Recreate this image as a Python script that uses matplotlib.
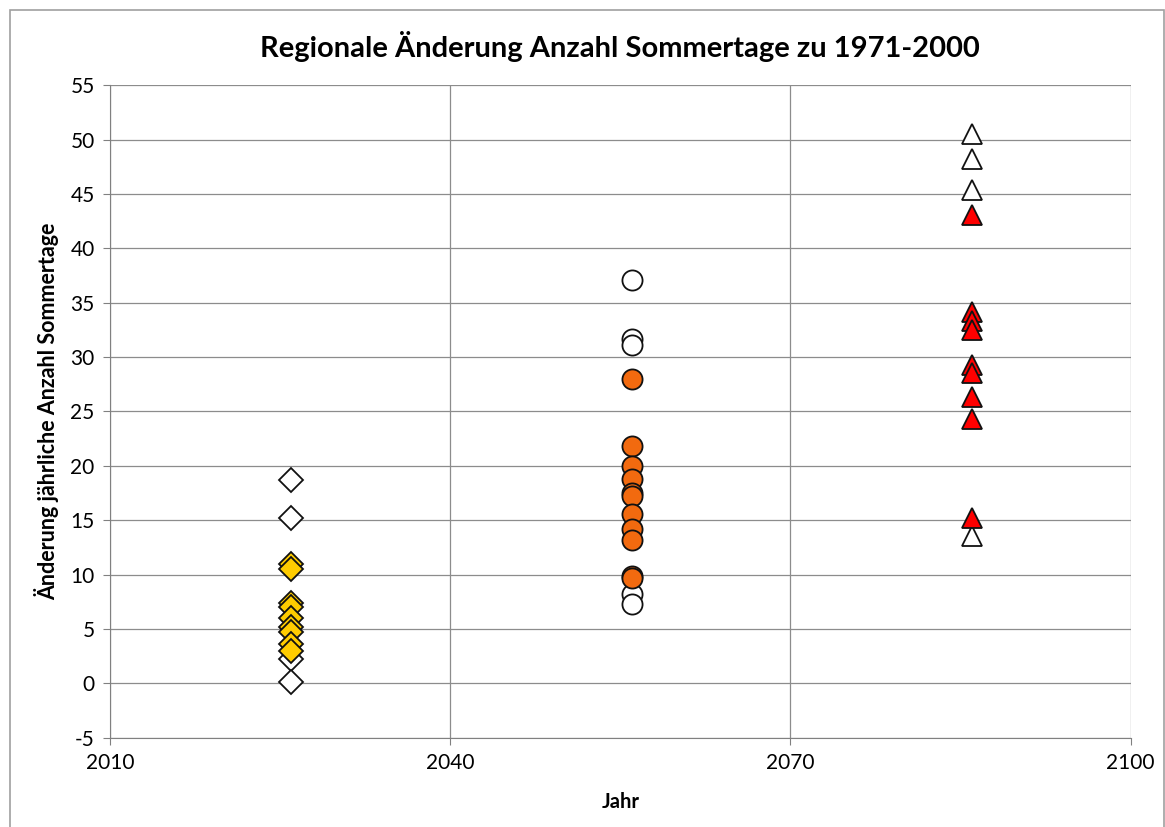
import matplotlib.pyplot as plt
from matplotlib.patches import Rectangle

plt.rcParams['font.family'] = ['Lato', 'DejaVu Sans']
plt.rcParams['axes.unicode_minus'] = False

# Zeitraum-Mittelpunkte
jahr_nah = 2026
jahr_mitte = 2056
jahr_fern = 2086

# nahe Zukunft (Rauten)
nah_weiss = [18.7, 15.2, 2.2, 0.1]
nah_gelb = [11.0, 10.5, 7.4, 7.0, 6.0, 5.2, 4.7, 3.6, 3.0]

# mittlere Zukunft (Kreise)
mitte_weiss = [37.1, 31.7, 31.1, 8.2, 7.3]
mitte_orange = [28.0, 21.8, 20.0, 18.8, 17.5, 17.2, 15.6, 14.2, 13.2, 9.9, 9.7]

# ferne Zukunft (Dreiecke)
fern_weiss = [50.5, 48.2, 45.4, 13.5]
fern_rot = [43.1, 34.1, 33.3, 32.5, 29.3, 28.5, 26.3, 24.3, 15.2]

fig = plt.figure(figsize=(11.65, 8.27), dpi=100)
ax = fig.add_axes([0.0944, 0.108, 0.876, 0.789])

# outer chart border like Excel
fig.patches.append(Rectangle((0.009, -0.01), 0.99, 0.998, transform=fig.transFigure,
                             fill=False, edgecolor='#a0a0a0', linewidth=1.2))

def punkte(x, werte, marker, farbe, ms):
    for v in sorted(werte, reverse=True):
        ax.plot([x], [v], marker=marker, markersize=ms, markerfacecolor=farbe,
                markeredgecolor='#111111', markeredgewidth=1.3, linestyle='none', zorder=3)

punkte(jahr_nah, nah_weiss, 'D', 'white', 12)
punkte(jahr_nah, nah_gelb, 'D', '#FFCC00', 12)
punkte(jahr_mitte, mitte_weiss, 'o', 'white', 14.5)
punkte(jahr_mitte, mitte_orange, 'o', '#F26A0F', 14.5)
punkte(jahr_fern, fern_weiss, '^', 'white', 14.5)
punkte(jahr_fern, fern_rot, '^', '#FF0000', 14.5)

ax.set_xlim(2010, 2100)
ax.set_ylim(-5, 55)
ax.set_xticks([2010, 2040, 2070, 2100])
ax.set_yticks(range(-5, 56, 5))
ax.grid(True, color='#8c8c8c', linewidth=0.9)
ax.set_axisbelow(True)
for s in ['top', 'right']:
    ax.spines[s].set_visible(False)
for s in ['left', 'bottom']:
    ax.spines[s].set_color('#808080')
ax.tick_params(axis='both', direction='out', length=5, color='#808080',
               labelsize=15, pad=6)

ax.set_title('Regionale Änderung Anzahl Sommertage zu 1971-2000',
             fontsize=21, fontweight='bold', pad=20)
ax.set_xlabel('Jahr', fontsize=14.5, fontweight='bold', labelpad=14)
ax.set_ylabel('Änderung jährliche Anzahl Sommertage', fontsize=15.5,
              fontweight='bold', labelpad=8)

fig.savefig('out.png', dpi=100)
